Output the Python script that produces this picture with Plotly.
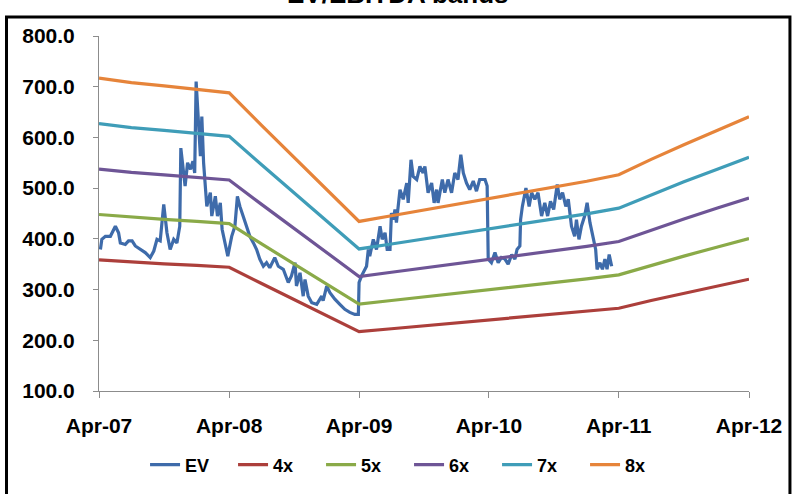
import pandas as pd
import plotly.graph_objects as go

# ---------------- data ----------------
start_date = "2007-04-01"

# EV series: days since start date and EV values
ev_days = [4, 8, 18, 32, 46, 55, 60, 74, 83, 93, 102, 116, 130, 144, 154, 163, 172, 182, 186, 191,
           200, 210, 219, 227, 230, 236, 242, 249, 257, 264, 269, 273, 280, 285, 289, 294, 303, 313, 317, 327,
           333, 341, 346, 355, 362, 373, 382, 389, 396, 405, 415, 424, 434, 443, 452, 462, 471, 480, 494, 504,
           518, 532, 541, 551, 555, 565, 574, 579, 588, 598, 612, 626, 630, 640, 649, 663, 677, 691, 705, 719,
           729, 731, 738, 743, 752, 757, 761, 771, 780, 790, 796, 804, 810, 818, 822, 827, 832, 836, 846, 855,
           865, 869, 877, 883, 893, 902, 911, 916, 925, 935, 942, 949, 953, 965, 972, 981, 991, 1000, 1009, 1017,
           1024, 1033, 1042, 1052, 1061, 1070, 1085, 1091, 1094, 1103, 1113, 1122, 1131, 1141, 1150, 1160, 1169, 1175, 1183, 1185,
           1190, 1200, 1209, 1216, 1225, 1234, 1244, 1253, 1261, 1269, 1278, 1288, 1295, 1303, 1312, 1319, 1328, 1337, 1342, 1349,
           1356, 1365, 1372, 1380, 1389, 1396, 1400, 1408, 1415, 1422, 1428, 1434, 1441]
ev_values = [379, 399, 405, 405, 425, 412, 392, 389, 396, 396, 386, 379, 373, 363, 376, 399, 396, 468, 445, 412,
             379, 399, 392, 425, 579, 537, 504, 550, 537, 553, 530, 710, 635, 563, 641, 550, 464, 491, 445, 484,
             445, 471, 419, 392, 366, 405, 425, 484, 464, 445, 425, 405, 392, 379, 360, 346, 353, 343, 363, 346,
             340, 314, 327, 353, 307, 333, 287, 320, 287, 274, 271, 287, 278, 307, 294, 281, 271, 261, 255, 251,
             251, 314, 327, 333, 346, 379, 366, 399, 379, 425, 399, 412, 379, 379, 451, 438, 458, 432, 497, 478,
             510, 471, 556, 523, 517, 543, 530, 543, 491, 510, 471, 497, 471, 517, 491, 517, 491, 530, 517, 566,
             530, 510, 497, 514, 494, 517, 517, 504, 360, 353, 373, 353, 363, 360, 350, 369, 360, 379, 386, 438,
             464, 500, 464, 491, 478, 491, 445, 471, 445, 474, 458, 507, 478, 491, 464, 478, 425, 405, 438, 399,
             425, 445, 471, 432, 399, 379, 340, 353, 340, 360, 340, 369, 346]

# Forward EBITDA (quarterly, Apr-07 .. Apr-12)
ebitda_dates = ["2007-04-01", "2007-07-01", "2007-10-01", "2008-01-01", "2008-04-01", "2008-07-01",
                "2008-10-01", "2009-01-01", "2009-04-01", "2009-07-01", "2009-10-01", "2010-01-01",
                "2010-04-01", "2010-07-01", "2010-10-01", "2011-01-01", "2011-04-01", "2011-07-01",
                "2011-10-01", "2012-01-01", "2012-04-01"]
ebitda_values = [89.6, 88.5, 87.7, 86.9, 86.0, 78.0, 70.0, 62.0, 54.3, 55.7, 57.1, 58.5,
                 59.9, 61.4, 62.8, 64.2, 65.8, 69.6, 73.2, 76.7, 80.1]

band_multiples = [4, 5, 6, 7, 8]
band_names = ["4x", "5x", "6x", "7x", "8x"]

x_tick_dates = ["2007-04-01", "2008-04-01", "2009-04-01", "2010-04-01", "2011-04-01", "2012-04-01"]
x_tick_labels = ["Apr-07", "Apr-08", "Apr-09", "Apr-10", "Apr-11", "Apr-12"]

# ---------------- styling ----------------
ev_color = "#3E6BAA"
band_colors = ["#AC3F3B", "#8AAA48", "#6E5596", "#3F9DB8", "#E6843A"]
FONT = "Liberation Sans, Arial, sans-serif"
axis_gray = "#8C8C8C"

ev_dates = pd.to_datetime(start_date) + pd.to_timedelta(ev_days, unit="D")

fig = go.Figure()
fig.add_trace(go.Scatter(x=ev_dates, y=ev_values, mode="lines", name="EV",
                         line=dict(color=ev_color, width=3.2)))
for m, nm, c in zip(band_multiples, band_names, band_colors):
    fig.add_trace(go.Scatter(x=pd.to_datetime(ebitda_dates), y=[m * v for v in ebitda_values],
                             mode="lines", name=nm, line=dict(color=c, width=3.2)))

fig.update_layout(
    width=796, height=494,
    margin=dict(l=99, r=47, t=36, b=102),
    paper_bgcolor="white", plot_bgcolor="white",
    font=dict(family=FONT, color="black"),
    showlegend=True,
    legend=dict(orientation="h", x=0.477, xanchor="center", y=-0.205, yanchor="middle",
                font=dict(family=FONT, size=18, weight="bold", color="black"),
                entrywidth=43, entrywidthmode="pixels", itemwidth=30),
    annotations=[dict(text="EV/EBITDA bands", xref="paper", yref="paper", x=0.46, y=1.07,
                      xanchor="center", yanchor="bottom", showarrow=False,
                      font=dict(family=FONT, size=26, weight="bold", color="black"))],
    shapes=[dict(type="rect", xref="paper", yref="paper", x0=-0.1423, x1=1.063, y0=-0.32, y1=1.0534,
                 line=dict(color="black", width=3), fillcolor="rgba(0,0,0,0)", layer="above")],
)
fig.update_xaxes(type="date", range=["2007-04-01", "2012-04-01"],
                 tickvals=pd.to_datetime(x_tick_dates), ticktext=x_tick_labels,
                 showgrid=False, zeroline=False, showline=True, linecolor=axis_gray, linewidth=1,
                 ticks="outside", ticklen=6, tickcolor=axis_gray, ticklabelstandoff=10,
                 tickfont=dict(family=FONT, size=21, weight="bold", color="black"))
fig.update_yaxes(range=[100, 800], dtick=100, tick0=100, tickformat=".1f",
                 showgrid=False, zeroline=False, showline=True, linecolor=axis_gray, linewidth=1,
                 ticks="outside", ticklen=5, tickcolor=axis_gray, ticklabelstandoff=14,
                 tickfont=dict(family=FONT, size=21, weight="bold", color="black"))

fig.write_html("out.html")
